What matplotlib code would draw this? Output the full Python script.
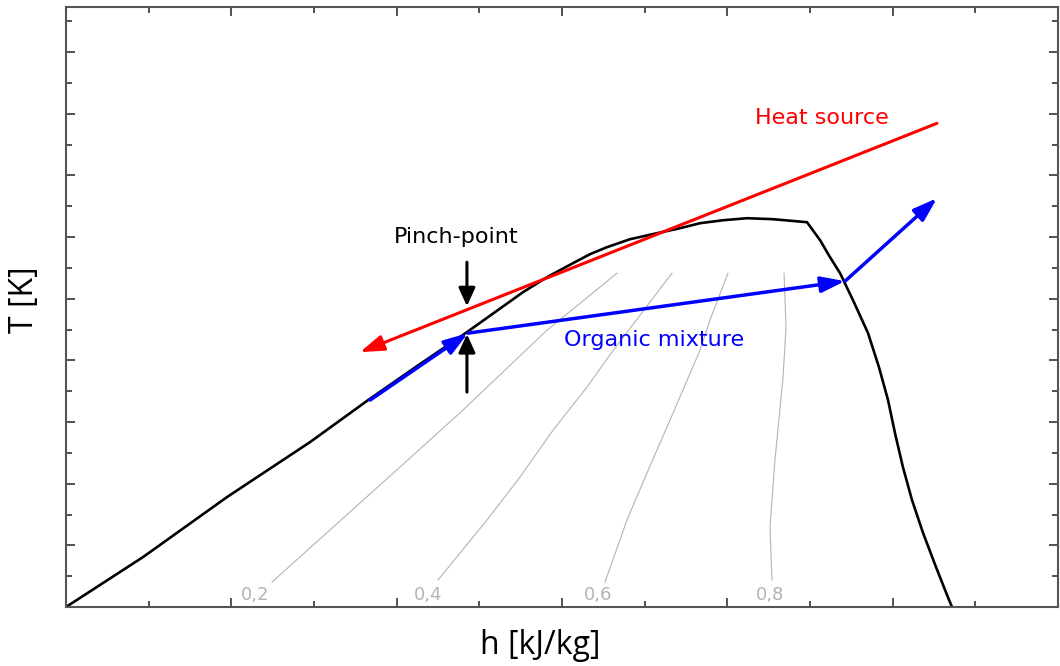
import matplotlib
matplotlib.use("Agg")
import matplotlib.pyplot as plt
from matplotlib.ticker import MultipleLocator, NullFormatter

# ---- data (in axis units) ----
sat_h = [0.000, 0.466, 0.974, 1.476, 1.827, 2.123, 2.425, 2.764, 2.909, 3.066,
         3.169, 3.272, 3.411, 3.575, 3.714, 3.835, 3.974, 4.119, 4.276, 4.482,
         4.561, 4.621, 4.682, 4.760, 4.851, 4.917, 4.972, 5.014, 5.062, 5.117,
         5.184, 5.262, 5.341, 5.359]
sat_T = [0.000, 0.810, 1.783, 2.674, 3.355, 3.906, 4.457, 5.105, 5.348, 5.575,
         5.721, 5.835, 5.964, 6.062, 6.143, 6.224, 6.272, 6.305, 6.289, 6.240,
         5.948, 5.673, 5.413, 4.976, 4.441, 3.890, 3.355, 2.820, 2.269, 1.734,
         1.199, 0.648, 0.113, 0.000]

q02_h = [1.246, 2.020, 2.401, 2.909, 3.333]
q02_T = [0.405, 2.269, 3.193, 4.489, 5.413]
q04_h = [2.250, 2.546, 2.746, 2.946, 3.151, 3.302, 3.665]
q04_T = [0.438, 1.410, 2.107, 2.869, 3.566, 4.133, 5.413]
q06_h = [3.260, 3.393, 3.514, 3.653, 3.835, 3.895, 4.004]
q06_T = [0.405, 1.410, 2.172, 3.031, 4.165, 4.652, 5.413]
q08_h = [4.270, 4.258, 4.288, 4.337, 4.355, 4.343]
q08_T = [0.438, 1.297, 2.382, 3.728, 4.538, 5.413]
quality_labels = ["0,2", "0,4", "0,6", "0,8"]
quality_label_h = [1.143, 2.190, 3.218, 4.258]
quality_label_T = [0.190, 0.190, 0.190, 0.190]

# heat source (start -> end, arrow at end)
heat_h = [5.268, 1.778]
heat_T = [7.844, 4.133]
# organic mixture path (arrow at end of each leg)
org_h = [1.839, 2.431, 4.712, 5.268]
org_T = [3.355, 4.441, 5.284, 6.629]
# pinch-point arrows: (tail, tip)
pinch_h = 2.425
pinch_down_T = [5.592, 4.878]
pinch_up_T = [3.485, 4.425]

xlim = (0, 6)
ylim = (0, 9.73)

fig = plt.figure(figsize=(10.6, 6.66), dpi=100)
ax = fig.add_axes([66/1060, 59/666, 992/1060, 600/666])
ax.set_xlim(*xlim)
ax.set_ylim(*ylim)

# quality lines
qcol = "#b4b4b4"
for hh, tt in [(q02_h, q02_T), (q04_h, q04_T), (q06_h, q06_T), (q08_h, q08_T)]:
    ax.plot(hh, tt, color=qcol, lw=0.8, zorder=1)
for lab, hh, tt in zip(quality_labels, quality_label_h, quality_label_T):
    ax.text(hh, tt, lab, color=qcol, fontsize=13, ha="center", va="center",
            family="DejaVu Sans", zorder=1)

# saturation dome
ax.plot(sat_h, sat_T, color="black", lw=1.9, zorder=2,
        solid_joinstyle="round", solid_capstyle="round")

def arrow(x0, y0, x1, y1, color, lw, hl, hw, z=3):
    ax.annotate("", xy=(x1, y1), xytext=(x0, y0),
                arrowprops=dict(arrowstyle=f"-|>,head_length={hl},head_width={hw}",
                                color=color, lw=lw, shrinkA=0, shrinkB=0,
                                mutation_scale=20),
                zorder=z)

# heat source
arrow(heat_h[0], heat_T[0], heat_h[1], heat_T[1], "#ff0000", 2.2, 0.72, 0.24)
# organic mixture legs
for i in range(len(org_h) - 1):
    arrow(org_h[i], org_T[i], org_h[i+1], org_T[i+1], "#0000ff", 2.5, 0.72, 0.24, z=4)
# pinch arrows
arrow(pinch_h, pinch_down_T[0], pinch_h, pinch_down_T[1], "black", 2.2, 0.55, 0.25, z=5)
arrow(pinch_h, pinch_up_T[0], pinch_h, pinch_up_T[1], "black", 2.2, 0.55, 0.25, z=5)

# annotations
ax.text(2.359, 5.899, "Pinch-point", color="black", fontsize=16, ha="center",
        va="baseline", family="DejaVu Sans")
ax.text(3.012, 4.235, "Organic mixture", color="#0000ff", fontsize=16, ha="left",
        va="baseline", family="DejaVu Sans")
ax.text(4.167, 7.839, "Heat source", color="#ff0000", fontsize=16, ha="left",
        va="baseline", family="DejaVu Sans")

# ticks
ax.xaxis.set_major_locator(MultipleLocator(1))
ax.xaxis.set_minor_locator(MultipleLocator(0.5))
ax.yaxis.set_major_locator(MultipleLocator(1))
ax.yaxis.set_minor_locator(MultipleLocator(0.5))
ax.xaxis.set_major_formatter(NullFormatter())
ax.yaxis.set_major_formatter(NullFormatter())
ax.tick_params(which="both", direction="in", top=True, right=True,
               color="#333333", width=1.2)
ax.tick_params(which="major", length=6.5)
ax.tick_params(which="minor", length=4)
for sp in ax.spines.values():
    sp.set_color("#555555")
    sp.set_linewidth(1.5)

fig.text(540/1060, 1 - 645/666, "h [kJ/kg]", fontsize=23, family="Open Sans",
         ha="center", va="center")
fig.text(24/1060, 1 - 300/666, "T [K]", fontsize=23, family="Open Sans",
         ha="center", va="center", rotation=90)

fig.savefig("out.png", dpi=100)
